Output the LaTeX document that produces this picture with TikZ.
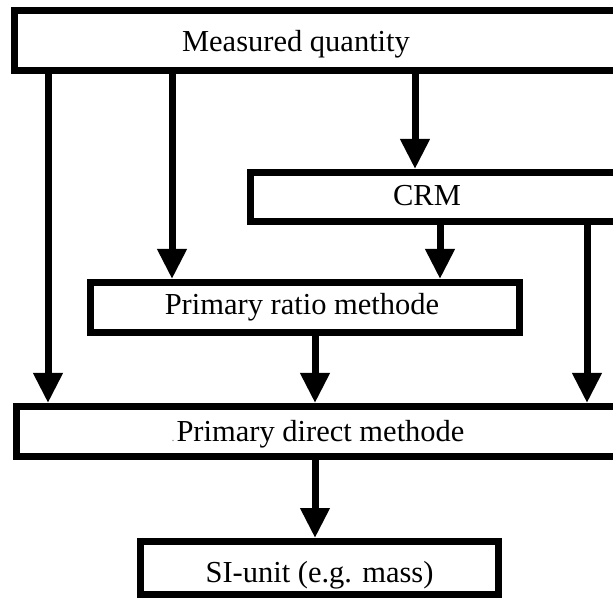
\documentclass[tikz,border=0pt]{standalone}
\usepackage{fontspec}
\setmainfont{Liberation Serif}
\usetikzlibrary{arrows.meta}
\tikzset{
  box/.style={draw=black, line width=7pt, rectangle, inner sep=0pt, fill=white},
  lbl/.style={anchor=base, inner sep=0pt, font=\fontsize{30.5}{36}\selectfont},
  arr/.style={line width=7pt, -{Triangle[width=28pt,length=30pt]}},
  ln/.style={line width=7pt}
}
\begin{document}
\begin{tikzpicture}[x=1pt,y=-1pt]
\useasboundingbox (0,0) rectangle (613,601);
\fill[white] (0,0) rectangle (613,601);
\clip (0,0) rectangle (613,601);
% boxes
\node[box, minimum width=622pt, minimum height=60pt] (mq) at (325.5,40.5) {};
\node[box, minimum width=386pt, minimum height=49pt] (crm) at (443.5,197) {};
\node[box, minimum width=429pt, minimum height=50pt] (ratio) at (305,307.5) {};
\node[box, minimum width=620pt, minimum height=50pt] (direct) at (326.5,431.5) {};
\node[box, minimum width=358pt, minimum height=53pt] (si) at (319.5,568) {};
% labels
\node[lbl] (tmq) at (296,52) {Measured quantity};
\node[lbl] (tcrm) at (427,206) {CRM};
\node[lbl] (tratio) at (302,315) {Primary ratio methode};
\node[lbl] (tdirect) at (320.5,441) {\makebox[0pt][r]{\color{gray}\fontsize{12}{12}\selectfont.\,}Primary direct methode};
\node[lbl] (tsi) at (319.5,582) {SI-unit (e.g. mass)};
% x positions
\coordinate (xa) at (48,0);
\coordinate (xb) at (172,0);
\coordinate (xc) at (415,0);
\coordinate (xd) at (440,0);
\coordinate (xe) at (587,0);
\coordinate (xf) at (315,0);
% connectors
\draw[arr] (mq.south -| xa) -- (direct.north -| xa);
\draw[arr] (mq.south -| xb) -- (ratio.north -| xb);
\draw[arr] (mq.south -| xc) -- (crm.north -| xc);
\draw[arr] (crm.south -| xd) -- (ratio.north -| xd);
\draw[arr] (crm.south -| xe) -- (direct.north -| xe);
\draw[arr] (ratio.south -| xf) -- (direct.north -| xf);
\draw[arr] (direct.south -| xf) -- (si.north -| xf);
\end{tikzpicture}
\end{document}
